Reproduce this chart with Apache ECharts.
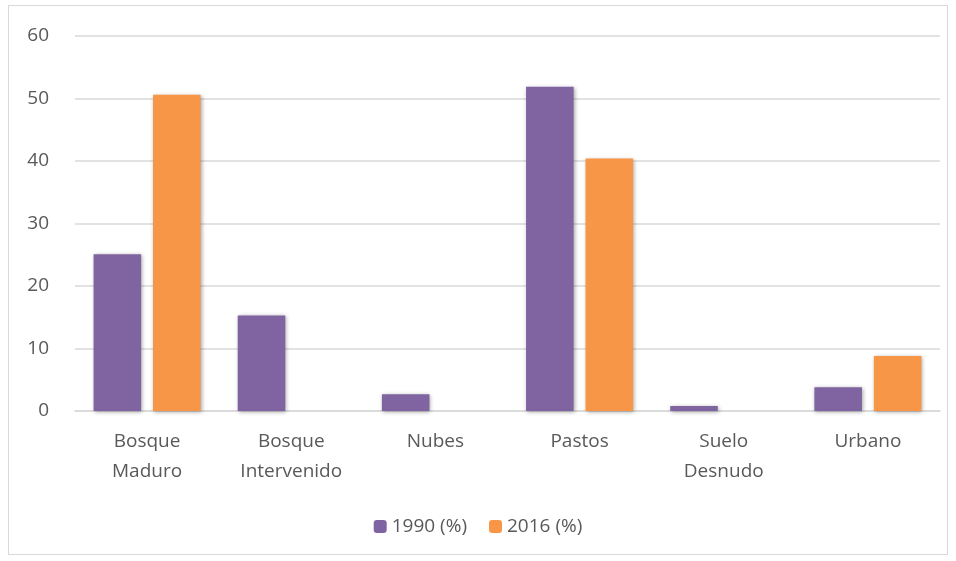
<!DOCTYPE html>
<html>
<head>
<meta charset="utf-8">
<script src="https://cdn.jsdelivr.net/npm/echarts@6/dist/echarts.min.js"></script>
<style>
  html, body { margin: 0; padding: 0; background: #fff; }
  #frame { position: absolute; left: 8px; top: 5px; width: 940px; height: 550px; border: 1px solid #d9d9d9; box-sizing: border-box; }
  #chart { width: 956px; height: 561px; }
</style>
</head>
<body>
<div id="frame"></div>
<div id="chart"></div>
<script>
// Datos de cobertura del suelo
const categories = ["Bosque\nMaduro", "Bosque\nIntervenido", "Nubes", "Pastos", "Suelo\nDesnudo", "Urbano"];
const values1990 = [25.1, 15.3, 2.7, 51.9, 0.8, 3.8];
const values2016 = [50.6, 0, 0, 40.4, 0, 8.8];
const seriesNames = ["1990 (%)", "2016 (%)"];

const chart = echarts.init(document.getElementById("chart"));

const barShadow = {
    shadowBlur: 4,
    shadowColor: "rgba(0,0,0,0.35)",
    shadowOffsetX: 1,
    shadowOffsetY: 1
};

const option = {
    animation: false,
    textStyle: { fontFamily: "Open Sans" },
    legend: {
        data: seriesNames,
        top: 512,
        left: "center",
        itemWidth: 13,
        itemHeight: 13,
        itemGap: 22,
        textStyle: { color: "#595959", fontSize: 19 }
    },
    grid: {
        left: 75,
        right: 16,
        top: 36,
        bottom: 150,
        containLabel: false
    },
    xAxis: {
        type: "category",
        data: categories,
        axisLine: { lineStyle: { color: "#d9d9d9", width: 1.5 } },
        axisTick: { show: false },
        axisLabel: {
            color: "#595959",
            fontSize: 19,
            lineHeight: 30,
            margin: 16,
            interval: 0
        }
    },
    yAxis: {
        type: "value",
        min: 0,
        max: 60,
        interval: 10,
        axisLine: { show: false },
        axisTick: { show: false },
        splitLine: { lineStyle: { color: "#d9d9d9", width: 1.5 } },
        axisLabel: { color: "#595959", fontSize: 19, margin: 26 }
    },
    series: [
        {
            name: seriesNames[0],
            type: "bar",
            data: values1990,
            barWidth: "33%",
            barGap: "25%",
            itemStyle: Object.assign({ color: "#8064A2" }, barShadow)
        },
        {
            name: seriesNames[1],
            type: "bar",
            data: values2016,
            barWidth: "33%",
            itemStyle: Object.assign({ color: "#F79646" }, barShadow)
        }
    ]
};

chart.setOption(option);
</script>
</body>
</html>
